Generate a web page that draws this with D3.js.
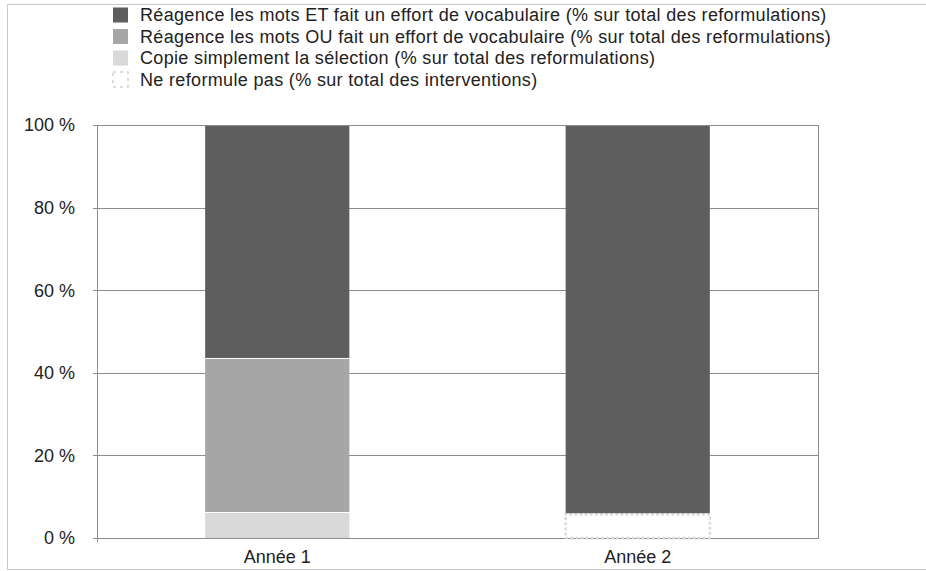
<!DOCTYPE html>
<html><head><meta charset="utf-8">
<script src="https://cdn.jsdelivr.net/npm/d3@7"></script>
<style>
html,body{margin:0;padding:0;background:#fff;}
svg{display:block;font-family:"Liberation Sans",Arial,sans-serif;}
</style></head>
<body><svg id="c" width="926" height="571"></svg>
<script>
const categories = ["Année 1", "Année 2"];
const seriesNames = [
  "Réagence les mots ET fait un effort de vocabulaire (% sur total des reformulations)",
  "Réagence les mots OU fait un effort de vocabulaire (% sur total des reformulations)",
  "Copie simplement la sélection (% sur total des reformulations)",
  "Ne reformule pas (% sur total des interventions)"
];
// stacking order bottom -> top
const nePasValues = [0, 6];
const copieValues = [6.3, 0];
const ouValues = [37.3, 0];
const etValues = [56.4, 94];
const yTicks = [0, 20, 40, 60, 80, 100];

const svg = d3.select("#c");
const margin = {left: 97, right: 818, top: 125, bottom: 538};
const fs = 18;

// outer frame
svg.append("rect").attr("x", 7.5).attr("y", 4.5).attr("width", 940).attr("height", 565)
  .attr("fill", "none").attr("stroke", "#c8c8c8").attr("stroke-width", 1);

const x = d3.scaleBand().domain(categories).range([margin.left, margin.right])
  .paddingInner(0.6).paddingOuter(0.3);
const y = d3.scaleLinear().domain([0, 100]).range([margin.bottom, margin.top]);

const gridColor = "#8c8c8c";
svg.append("g").selectAll("line").data(yTicks).join("line")
  .attr("x1", margin.left - 4).attr("x2", margin.right)
  .attr("y1", d => Math.round(y(d)) + 0.5).attr("y2", d => Math.round(y(d)) + 0.5)
  .attr("stroke", gridColor).attr("stroke-width", 1);
svg.append("line").attr("x1", margin.left + 0.5).attr("x2", margin.left + 0.5)
  .attr("y1", margin.top).attr("y2", margin.bottom + 4).attr("stroke", gridColor);
svg.append("line").attr("x1", margin.right + 0.5).attr("x2", margin.right + 0.5)
  .attr("y1", margin.top).attr("y2", margin.bottom + 1).attr("stroke", gridColor);

svg.append("g").selectAll("text").data(yTicks).join("text")
  .attr("x", 75).attr("y", d => y(d)).attr("dy", "0.35em")
  .attr("text-anchor", "end").attr("font-size", fs).attr("fill", "#222")
  .text(d => d + " %");

svg.append("g").selectAll("text").data(categories).join("text")
  .attr("x", d => x(d) + x.bandwidth() / 2).attr("y", 563)
  .attr("text-anchor", "middle").attr("font-size", fs).attr("fill", "#222")
  .text(d => d);

const rows = categories.map((c, i) => ({cat: c, nepas: nePasValues[i], copie: copieValues[i], ou: ouValues[i], et: etValues[i]}));
const keys = ["nepas", "copie", "ou", "et"];
const colors = {et: "#5e5e5e", ou: "#a6a6a6", copie: "#d9d9d9", nepas: "#ffffff"};
const stack = d3.stack().keys(keys)(rows);

stack.forEach(layer => {
  const k = layer.key;
  svg.append("g").selectAll("rect").data(layer.filter(d => d[1] - d[0] > 0)).join("rect")
    .attr("x", d => x(d.data.cat)).attr("width", x.bandwidth())
    .attr("y", d => y(d[1]) + 1).attr("height", d => y(d[0]) - y(d[1]) - 1)
    .attr("fill", colors[k])
    .attr("stroke", k === "nepas" ? "#dadada" : "none")
    .attr("stroke-width", k === "nepas" ? 3 : 0)
    .attr("stroke-linecap", "round")
    .attr("stroke-dasharray", k === "nepas" ? "0.1,5" : null);
});

const legColors = [colors.et, colors.ou, colors.copie, "#fff"];
const lg = svg.append("g");
seriesNames.forEach((s, i) => {
  const cy = 15 + i * 21.5;
  lg.append("rect").attr("x", 113).attr("y", cy - 7.5).attr("width", 15).attr("height", 15)
    .attr("fill", legColors[i])
    .attr("stroke", i === 3 ? "#d0d0d0" : "none").attr("stroke-width", i === 3 ? 1.5 : 0)
    .attr("stroke-dasharray", i === 3 ? "3,4" : null);
  const t = lg.append("text").attr("x", 140).attr("y", cy).attr("dy", "0.35em")
    .attr("font-size", fs).attr("fill", "#222").text(s);
  const w = t.node().getComputedTextLength();
  t.attr("textLength", w * 1.042).attr("lengthAdjust", "spacing");
});
</script></body></html>
